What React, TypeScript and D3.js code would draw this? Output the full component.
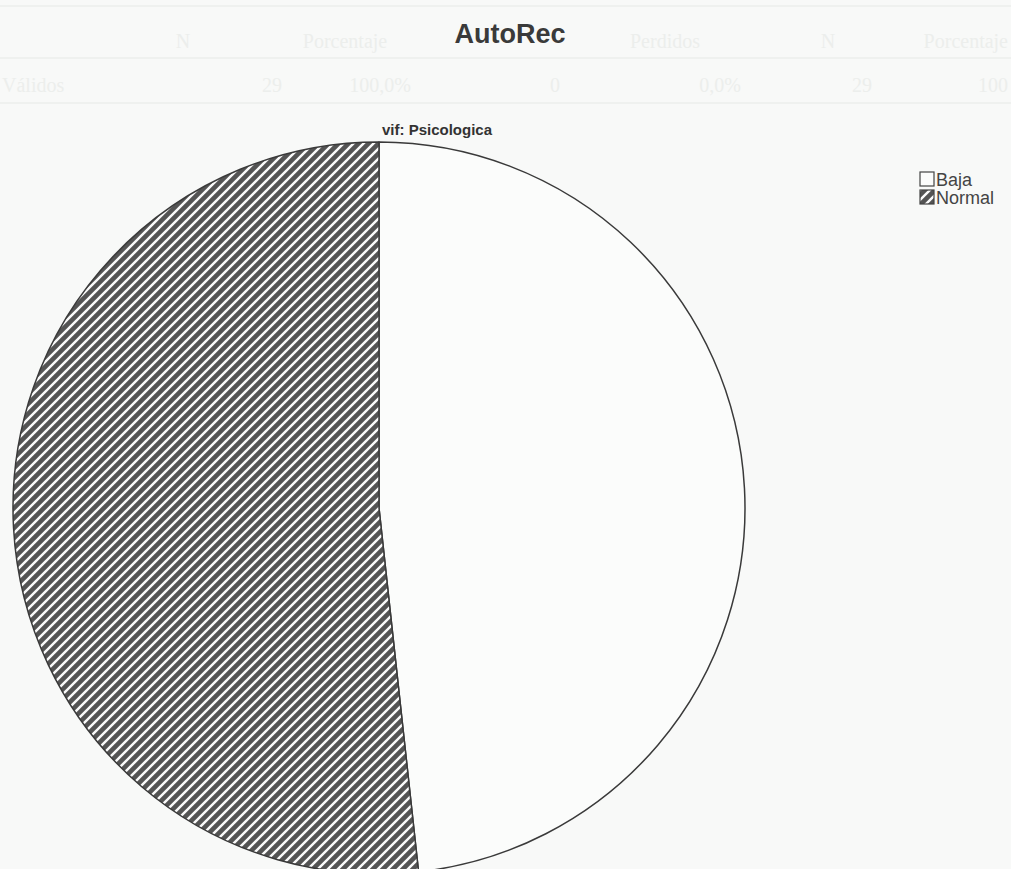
import React, { useEffect, useRef } from "react";
import * as d3 from "d3";

const categories = ["Baja", "Normal"];
const counts = [14, 15];
const title = "AutoRec";
const subtitle = "vif: Psicologica";
const headerCells = ["N", "Porcentaje", "Perdidos", "N", "Porcentaje"];
const rowCells = ["Válidos", "29", "100,0%", "0", "0,0%", "29", "100"];

const W = 1011;
const H = 869;

export default function App() {
  const ref = useRef<SVGSVGElement | null>(null);

  useEffect(() => {
    document.body.style.margin = "0";
    const svg = d3.select(ref.current);
    svg.selectAll("*").remove();

    svg.append("rect").attr("width", W).attr("height", H).attr("fill", "#f8f9f8");

    const defs = svg.append("defs");
    const P = 10;
    const pat = defs
      .append("pattern")
      .attr("id", "hatch")
      .attr("patternUnits", "userSpaceOnUse")
      .attr("width", P)
      .attr("height", P);
    pat.append("rect").attr("width", P).attr("height", P).attr("fill", "#545454");
    pat
      .append("path")
      .attr("d", `M-2,2 l4,-4 M0,${P} l${P},-${P} M${P - 2},${P + 2} l4,-4`)
      .attr("stroke", "#fbfbfb")
      .attr("stroke-width", 2.4);

    // faint bleed-through table
    const faint = svg
      .append("g")
      .attr("fill", "#eceeec")
      .attr("font-family", "Liberation Serif, serif")
      .attr("font-size", 20);
    const hx = [183, 345, 665, 828, 1008];
    const ha = ["middle", "middle", "middle", "middle", "end"];
    headerCells.forEach((t, i) => {
      faint.append("text").attr("x", hx[i]).attr("y", 48).attr("text-anchor", ha[i]).text(t);
    });
    const rx = [2, 272, 380, 555, 720, 862, 1008];
    const ra = ["start", "middle", "middle", "middle", "middle", "middle", "end"];
    rowCells.forEach((t, i) => {
      faint.append("text").attr("x", rx[i]).attr("y", 92).attr("text-anchor", ra[i]).text(t);
    });
    [6, 58, 103].forEach((y) => {
      svg
        .append("line")
        .attr("x1", 0)
        .attr("x2", W)
        .attr("y1", y)
        .attr("y2", y)
        .attr("stroke", "#eceeec")
        .attr("stroke-width", 1.5);
    });

    svg
      .append("text")
      .attr("x", 510)
      .attr("y", 43)
      .attr("text-anchor", "middle")
      .attr("font-family", "Liberation Sans, Arial, sans-serif")
      .attr("font-weight", "bold")
      .attr("font-size", 27)
      .attr("fill", "#3a3a3a")
      .text(title);

    svg
      .append("text")
      .attr("x", 437)
      .attr("y", 135)
      .attr("text-anchor", "middle")
      .attr("font-family", "Liberation Sans, Arial, sans-serif")
      .attr("font-weight", "bold")
      .attr("font-size", 15)
      .attr("fill", "#333")
      .text(subtitle);

    const cx = 379;
    const cy = 508;
    const r = 366;
    const pie = d3.pie<number>().sort(null).startAngle(0).endAngle(2 * Math.PI);
    const arcs = pie(counts);
    const arc = d3.arc<d3.PieArcDatum<number>>().innerRadius(0).outerRadius(r);
    const fills = ["#fbfcfb", "url(#hatch)"];
    const g = svg.append("g").attr("transform", `translate(${cx},${cy})`);
    g.selectAll("path")
      .data(arcs)
      .join("path")
      .attr("d", arc)
      .attr("fill", (_d, i) => fills[i])
      .attr("stroke", "#3a3a3a")
      .attr("stroke-width", 1.5)
      .attr("stroke-linejoin", "round");

    const leg = svg.append("g").attr("transform", "translate(920,172)");
    categories.forEach((c, i) => {
      const row = leg.append("g").attr("transform", `translate(0,${i * 18})`);
      row
        .append("rect")
        .attr("x", 0)
        .attr("y", 0)
        .attr("width", 14)
        .attr("height", 14)
        .attr("fill", fills[i])
        .attr("stroke", "#444")
        .attr("stroke-width", 1.2);
      row
        .append("text")
        .attr("x", 16)
        .attr("y", 13.5)
        .attr("font-family", "Liberation Sans, Arial, sans-serif")
        .attr("font-size", 18)
        .attr("fill", "#444")
        .text(c);
    });
  }, []);

  return (
    <div style={{ position: "absolute", left: 0, top: 0 }}>
      <svg ref={ref} width={W} height={H} style={{ display: "block" }} />
    </div>
  );
}
